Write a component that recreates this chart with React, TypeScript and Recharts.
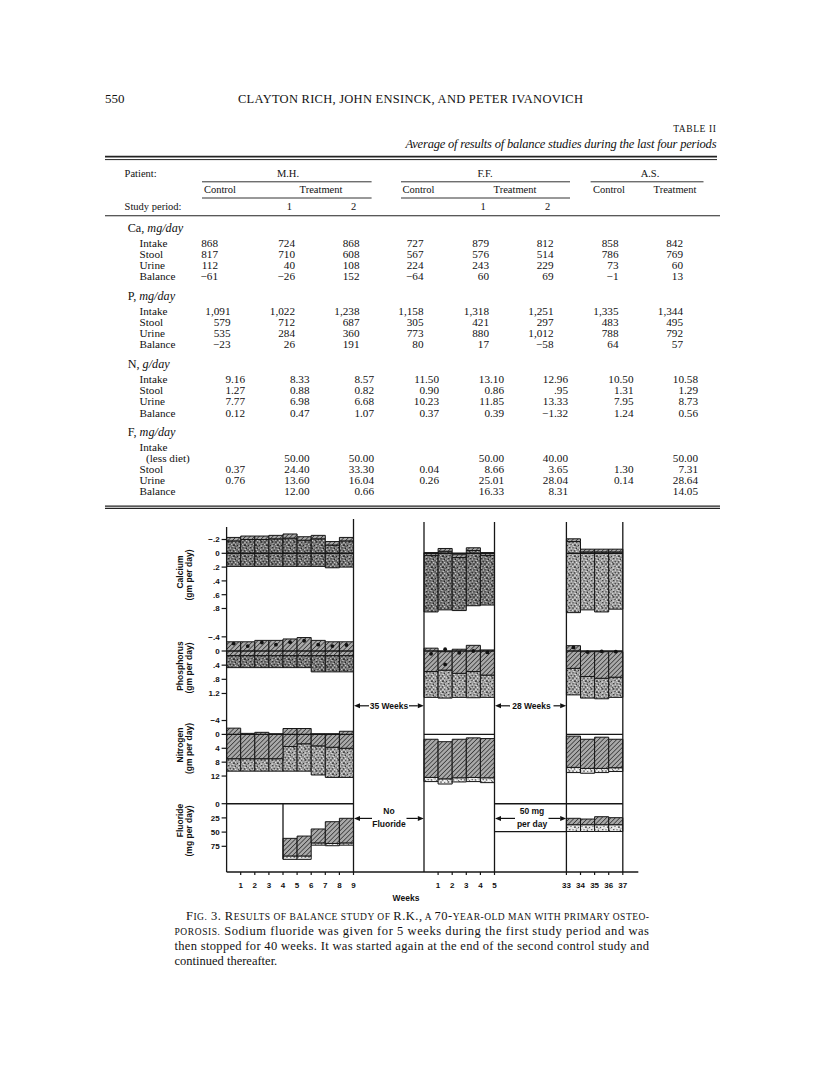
import React from 'react';
import { ComposedChart, XAxis, YAxis, ReferenceArea, ReferenceLine, Scatter } from 'recharts';

// ---------- Table II ----------
const tablePatients = ['M.H.', 'F.F.', 'A.S.'];
const tableGroups = ['Control', 'Treatment', 'Control', 'Treatment', 'Control', 'Treatment'];
const tablePeriods = ['', '1', '2', '', '1', '2', '', ''];
const balanceRowNames = ['Intake', 'Stool', 'Urine', 'Balance'];
const fluorideRowNames = ['Intake', '(less diet)', 'Stool', 'Urine', 'Balance'];

const calciumTable = [
  ['868', '724', '868', '727', '879', '812', '858', '842'],
  ['817', '710', '608', '567', '576', '514', '786', '769'],
  ['112', '40', '108', '224', '243', '229', '73', '60'],
  ['\u221261', '\u221226', '152', '\u221264', '60', '69', '\u22121', '13'],
];
const phosphorusTable = [
  ['1,091', '1,022', '1,238', '1,158', '1,318', '1,251', '1,335', '1,344'],
  ['579', '712', '687', '305', '421', '297', '483', '495'],
  ['535', '284', '360', '773', '880', '1,012', '788', '792'],
  ['\u221223', '26', '191', '80', '17', '\u221258', '64', '57'],
];
const nitrogenTable = [
  ['9.16', '8.33', '8.57', '11.50', '13.10', '12.96', '10.50', '10.58'],
  ['1.27', '0.88', '0.82', '0.90', '0.86', '.95', '1.31', '1.29'],
  ['7.77', '6.98', '6.68', '10.23', '11.85', '13.33', '7.95', '8.73'],
  ['0.12', '0.47', '1.07', '0.37', '0.39', '\u22121.32', '1.24', '0.56'],
];
const fluorideTable = [
  ['', '', '', '', '', '', '', ''],
  ['', '50.00', '50.00', '', '50.00', '40.00', '', '50.00'],
  ['0.37', '24.40', '33.30', '0.04', '8.66', '3.65', '1.30', '7.31'],
  ['0.76', '13.60', '16.04', '0.26', '25.01', '28.04', '0.14', '28.64'],
  ['', '12.00', '0.66', '', '16.33', '8.31', '', '14.05'],
];

// ---------- Fig. 3 (R.K.) ----------
// three study blocks; bars are labelled by the week they end on
const blockWeeks = [
  [1, 2, 3, 4, 5, 6, 7, 8, 9],
  [1, 2, 3, 4, 5],
  [34, 35, 36, 37],
];
const blockTickWeeks = [
  [1, 2, 3, 4, 5, 6, 7, 8, 9],
  [1, 2, 3, 4, 5],
  [33, 34, 35, 36, 37],
];
const blockFirstWeek = [0, 0, 33];

// gm per day, intake plotted down from 0, stool then urine stacked back up
const calciumIntake = [0.19, 0.19, 0.19, 0.19, 0.19, 0.19, 0.19, 0.21, 0.2, 0.85, 0.82, 0.83, 0.76, 0.75, 0.86, 0.82, 0.85, 0.81];
const calciumStool = [0.37, 0.39, 0.39, 0.4, 0.41, 0.38, 0.4, 0.33, 0.38, 0.82, 0.85, 0.77, 0.8, 0.72, 1.03, 0.84, 0.87, 0.83];
const calciumUrine = [0.05, 0.05, 0.05, 0.05, 0.06, 0.05, 0.05, 0.05, 0.05, 0.04, 0.04, 0.04, 0.04, 0.04, 0.04, 0.04, 0.04, 0.04];

const phosphorusIntake = [0.47, 0.47, 0.47, 0.47, 0.47, 0.47, 0.59, 0.59, 0.59, 1.31, 1.33, 1.31, 1.32, 1.31, 1.24, 1.33, 1.35, 1.31];
const phosphorusStool = [0.34, 0.34, 0.34, 0.34, 0.34, 0.34, 0.46, 0.46, 0.46, 0.73, 0.79, 0.68, 0.74, 0.63, 0.75, 0.61, 0.58, 0.57];
const phosphorusUrine = [0.39, 0.39, 0.43, 0.43, 0.47, 0.51, 0.43, 0.39, 0.39, 0.66, 0.52, 0.68, 0.74, 0.71, 0.64, 0.7, 0.75, 0.72];

// black dots in the phosphorus panel
const phosDotBlock = [0, 0, 0, 0, 0, 0, 0, 0, 0, 1, 1, 1, 1, 1, 1, 2, 2, 2, 2];
const phosDotWeek = [1, 2, 3, 4, 5, 6, 7, 8, 9, 1, 2, 2, 3, 4, 5, 34, 35, 36, 37];
const phosDotValue = [-0.21, -0.14, -0.24, -0.18, -0.25, -0.29, -0.18, -0.14, -0.17, 0.08, -0.05, 0.38, 0.05, 0, 0.04, -0.1, 0.03, 0.01, 0.02];

const nitrogenIntake = [10.6, 10.6, 10.6, 10.6, 10.6, 10.6, 11.7, 12.4, 12.4, 13.6, 14.3, 13.7, 13.6, 13.9, 11.0, 11.2, 11.0, 10.7];
const nitrogenStool = [3.6, 3.6, 3.6, 3.6, 7.1, 7.9, 8.4, 8.7, 8.4, 1.2, 1.5, 1.2, 1.2, 1.4, 1.5, 1.4, 1.2, 1.1];
const nitrogenUrine = [8.8, 7.3, 7.6, 7.2, 5.2, 4.4, 3.5, 3.9, 4.9, 11.0, 10.7, 11.1, 11.4, 11.3, 9.0, 8.4, 9.0, 8.2];

// mg per day
const fluorideIntake = [0, 0, 0, 0, 98, 98, 73, 74, 73, 0, 0, 0, 0, 0, 49, 49, 49, 49];
const fluorideStool = [0, 0, 0, 0, 6, 6, 4, 4, 4, 0, 0, 0, 0, 0, 12, 12, 12, 12];
const fluorideUrine = [0, 0, 0, 0, 31, 35, 24.5, 38.3, 43.3, 0, 0, 0, 0, 0, 11.3, 10, 14.1, 12.4];

// ---------- layout ----------
const PLOT_LEFT = 226.6;
const UNIT = 14.1;
const X_MAX = 29.2;
const CHART_W = 660;
const blockOffset = [0, 14, 24.1];
const blockEnd = blockWeeks.map((w, b) => blockOffset[b] + w.length);

const slots = blockWeeks.flatMap((weeks, b) =>
  weeks.map((w) => ({ block: b, x0: blockOffset[b] + (w - 1 - blockFirstWeek[b]) }))
);
const weekTickPos = blockTickWeeks.flatMap((weeks, b) => weeks.map((w) => blockOffset[b] + (w - blockFirstWeek[b])));
const weekTickText = blockTickWeeks.flat();

const tickFont = { fontFamily: 'Liberation Sans, Arial, sans-serif', fontSize: 8, fontWeight: 700, fill: '#111' };
const LINE = '#161616';

type PanelCfg = {
  top: number;
  height: number;
  domain: [number, number];
  ticks: number[];
  labels: string[];
  axisFrom?: number;
  dividerFrom?: number;
};

const caCfg: PanelCfg = { top: 519, height: 103, domain: [-0.4971, 0.9957], ticks: [-0.2, 0, 0.2, 0.4, 0.6, 0.8], labels: ['\u2212.2', '0', '.2', '.4', '.6', '.8'], axisFrom: -0.381, dividerFrom: -0.4536 };
const pCfg: PanelCfg = { top: 622, height: 82, domain: [-0.8192, 1.4972], ticks: [-0.4, 0, 0.4, 0.8, 1.2], labels: ['\u2212.4', '0', '.4', '.8', '1.2'] };
const nCfg: PanelCfg = { top: 704, height: 86, domain: [-8.761, 16.023], ticks: [-4, 0, 4, 8, 12], labels: ['\u22124', '0', '4', '8', '12'] };
const fCfg: PanelCfg = { top: 790, height: 82, domain: [-24.12, 120.25], ticks: [0, 25, 50, 75], labels: ['0', '25', '50', '75'] };

const DARK = 'url(#stippleDark)';
const MID = 'url(#stippleMid)';
const LIGHT = 'url(#stippleLight)';

type PanelProps = {
  cfg: PanelCfg;
  intake: number[];
  stool: number[];
  urine: number[];
  stoolFills: string[];
  zeroLines?: boolean;
  showWeeks?: boolean;
  dots?: { x: number; y: number }[];
  children?: React.ReactNode;
};

const BalancePanel = ({ cfg, intake, stool, urine, stoolFills, zeroLines = true, showWeeks, dots, children }: PanelProps) => {
  const axisH = showWeeks ? 24 : 0;
  const h = cfg.height + axisH;
  const bottom = cfg.domain[1];
  const dividerTop = cfg.dividerFrom ?? cfg.domain[0];
  const dividers = [blockEnd[0], blockOffset[1], blockEnd[1], blockOffset[2], blockEnd[2]];
  return (
    <div style={{ position: 'absolute', left: 0, top: cfg.top, width: CHART_W, height: h }}>
      <ComposedChart
        width={CHART_W}
        height={h}
        margin={{ top: 0, right: CHART_W - (PLOT_LEFT + X_MAX * UNIT), bottom: 0, left: PLOT_LEFT - 60 }}
        data={slots.map((s) => ({ x: s.x0 + 0.5 }))}
      >
        <XAxis
          type="number"
          dataKey="x"
          domain={[0, X_MAX]}
          allowDataOverflow
          hide={!showWeeks}
          ticks={weekTickPos}
          interval={0}
          tickFormatter={(v: number) => String(weekTickText[weekTickPos.indexOf(v)] ?? '')}
          tickSize={3}
          tickMargin={7}
          height={24}
          axisLine={{ stroke: LINE, strokeWidth: 1.3 }}
          tickLine={{ stroke: LINE, strokeWidth: 1.2 }}
          tick={tickFont}
        />
        <YAxis
          type="number"
          dataKey="y"
          domain={cfg.domain}
          reversed
          allowDataOverflow
          ticks={cfg.ticks}
          interval={0}
          tickFormatter={(v: number) => cfg.labels[cfg.ticks.indexOf(v)] ?? ''}
          width={60}
          axisLine={false}
          tickSize={5}
          tickMargin={2}
          tickLine={{ stroke: LINE, strokeWidth: 1.2 }}
          tick={tickFont}
        />
        {slots.map((s, i) => {
          if (stool[i] + urine[i] <= 0) return null;
          const stoolTop = intake[i] - stool[i];
          return (
            <ReferenceArea
              key={`s${i}`}
              x1={s.x0}
              x2={s.x0 + 1}
              y1={intake[i]}
              y2={stoolTop}
              fill={stoolFills[s.block]}
              fillOpacity={1}
              stroke={LINE}
              strokeWidth={1}
              ifOverflow="visible"
            />
          );
        })}
        {slots.map((s, i) => {
          if (urine[i] <= 0) return null;
          const stoolTop = intake[i] - stool[i];
          return (
            <ReferenceArea
              key={`u${i}`}
              x1={s.x0}
              x2={s.x0 + 1}
              y1={stoolTop}
              y2={stoolTop - urine[i]}
              fill="url(#hatch)"
              fillOpacity={1}
              stroke={LINE}
              strokeWidth={1}
              ifOverflow="visible"
            />
          );
        })}
        {zeroLines &&
          blockOffset.map((x0, b) => (
            <ReferenceLine
              key={`z${b}`}
              segment={[{ x: x0, y: 0 }, { x: blockEnd[b], y: 0 }]}
              stroke={LINE}
              strokeWidth={1.4}
              ifOverflow="visible"
            />
          ))}
        <ReferenceLine
          segment={[{ x: 0, y: cfg.axisFrom ?? cfg.domain[0] }, { x: 0, y: bottom }]}
          stroke={LINE}
          strokeWidth={1.3}
          ifOverflow="visible"
        />
        {dividers.map((x, i) => (
          <ReferenceLine
            key={`d${i}`}
            segment={[{ x, y: i === 0 ? cfg.domain[0] : dividerTop }, { x, y: bottom }]}
            stroke={LINE}
            strokeWidth={1.3}
            ifOverflow="visible"
          />
        ))}
        {children}
        {dots && (
          <Scatter
            data={dots}
            isAnimationActive={false}
            shape={(p: any) => <circle cx={p.cx} cy={p.cy} r={1.9} fill="#111" />}
          />
        )}
      </ComposedChart>
    </div>
  );
};

const phosDots = phosDotValue.map((v, i) => ({
  x: blockOffset[phosDotBlock[i]] + (phosDotWeek[i] - 0.5 - blockFirstWeek[phosDotBlock[i]]),
  y: v,
}));

// fluoride: first bar with intake in block 1, and the 50 mg/day level carried through the second gap
const firstFluorideSlot = fluorideIntake.findIndex((v) => v > 0);
const restartSlot = slots.findIndex((s) => s.block === 2);

const Arrow = ({ from, to, y }: { from: number; to: number; y: number }) => {
  const dir = to > from ? 1 : -1;
  const base = to - dir * 6;
  return (
    <g>
      <line x1={from} y1={y} x2={base} y2={y} stroke="#111" strokeWidth={1.2} />
      <polygon points={`${to},${y} ${base},${y - 2.5} ${base},${y + 2.5}`} fill="#111" />
    </g>
  );
};

// speck layout for the stippled (stool) texture, 11px tile
const SPECK_DARK = [
  [0.3, 0.4, 1.4], [4.2, 1.1, 1.0], [7.6, 0.2, 1.6], [9.4, 2.8, 1.1], [2.1, 3.3, 1.7], [6.0, 3.9, 1.2],
  [0.5, 6.2, 1.1], [3.7, 6.6, 1.5], [8.1, 5.9, 1.3], [5.6, 8.4, 1.0], [1.8, 9.2, 1.4], [9.6, 9.0, 1.2],
  [7.0, 10.1, 0.9], [4.6, 4.9, 0.8],
];
const SPECK_LIGHT = [
  [2.3, 1.2, 1.2], [5.9, 0.3, 1.0], [8.6, 1.9, 0.9], [0.2, 3.0, 1.0], [4.0, 2.8, 0.9], [7.5, 4.4, 1.3],
  [1.4, 5.0, 1.1], [5.2, 6.5, 1.0], [9.9, 6.6, 1.0], [2.6, 7.9, 1.2], [7.3, 8.0, 1.0], [0.4, 10.1, 0.9],
  [4.1, 10.0, 1.1], [9.0, 10.4, 0.7],
];

const Stipple = ({ id, base, dark, light }: { id: string; base: string; dark: string; light: string }) => (
  <pattern id={id} width={11} height={11} patternUnits="userSpaceOnUse">
    <rect width={11} height={11} fill={base} />
    {SPECK_DARK.map(([x, y, s], i) => (
      <rect key={`d${i}`} x={x} y={y} width={s} height={s} fill={dark} />
    ))}
    {SPECK_LIGHT.map(([x, y, s], i) => (
      <rect key={`l${i}`} x={x} y={y} width={s} height={s} fill={light} />
    ))}
  </pattern>
);

const SERIF = 'Liberation Serif, Times New Roman, serif';
const SANS = 'Liberation Sans, Arial, sans-serif';

const colRightCa = [218, 295, 359.5, 423.5, 489, 553.5, 618.5, 683];
const colRightP = [230.5, 295, 359.5, 423.5, 489, 553.5, 618.5, 683];
const colRightN = [245, 309.5, 374, 439, 504, 568, 633.5, 698];

const ROW_FONT = 11.2;

const TableSection = ({ title, unit, names, rows, y0, cols }: { title: string; unit: string; names: string[]; rows: string[][]; y0: number; cols: number[] }) => (
  <g>
    <text x={127.7} y={y0} fontSize={12.2}>
      {title}, <tspan fontStyle="italic">{unit}</tspan>
    </text>
    {names.map((n, r) => (
      <text key={n} x={n.startsWith('(') ? 146 : 139.5} y={y0 + 15.2 + r * 11.1} fontSize={ROW_FONT}>
        {n}
      </text>
    ))}
    {rows.map((row, r) =>
      row.map((v, c) => (
        <text key={`${r}-${c}`} x={cols[c]} y={y0 + 15.2 + r * 11.1} fontSize={ROW_FONT} textAnchor="end">
          {v}
        </text>
      ))
    )}
  </g>
);

export default function App() {
  const fIntakeTop = fluorideIntake[firstFluorideSlot];
  const restartLevel = fluorideIntake[restartSlot];
  return (
    <div style={{ position: 'absolute', left: 0, top: 0, width: 816, height: 1076, background: '#fff', overflow: 'hidden' }}>
      <svg width={0} height={0} style={{ position: 'absolute' }}>
        <defs>
          <pattern id="hatch" width={3.2} height={3.2} patternUnits="userSpaceOnUse" patternTransform="rotate(45)">
            <rect width={3.2} height={3.2} fill="#a9a9a9" />
            <line x1={0} y1={0} x2={0} y2={3.2} stroke="#2a2a2a" strokeWidth={1.4} />
          </pattern>
          <Stipple id="stippleDark" base="#777" dark="#222" light="#d4d4d4" />
          <Stipple id="stippleMid" base="#a2a2a2" dark="#383838" light="#ececec" />
          <Stipple id="stippleLight" base="#e2e2e2" dark="#555" light="#fff" />
        </defs>
      </svg>

      <BalancePanel cfg={caCfg} intake={calciumIntake} stool={calciumStool} urine={calciumUrine} stoolFills={[DARK, DARK, MID]} />
      <BalancePanel cfg={pCfg} intake={phosphorusIntake} stool={phosphorusStool} urine={phosphorusUrine} stoolFills={[DARK, MID, MID]} dots={phosDots} />
      <BalancePanel cfg={nCfg} intake={nitrogenIntake} stool={nitrogenStool} urine={nitrogenUrine} stoolFills={[MID, LIGHT, LIGHT]} />
      <BalancePanel cfg={fCfg} intake={fluorideIntake} stool={fluorideStool} urine={fluorideUrine} stoolFills={[LIGHT, LIGHT, LIGHT]} zeroLines={false} showWeeks>
        <ReferenceLine segment={[{ x: 0, y: 0 }, { x: blockEnd[0], y: 0 }]} stroke={LINE} strokeWidth={1.4} ifOverflow="visible" />
        <ReferenceLine
          segment={[{ x: slots[firstFluorideSlot].x0, y: 0 }, { x: slots[firstFluorideSlot].x0, y: fIntakeTop }]}
          stroke={LINE}
          strokeWidth={1.3}
          ifOverflow="visible"
        />
        <ReferenceLine segment={[{ x: blockEnd[1], y: 0 }, { x: blockEnd[2], y: 0 }]} stroke={LINE} strokeWidth={1.4} ifOverflow="visible" />
        <ReferenceLine segment={[{ x: blockEnd[1], y: restartLevel }, { x: blockOffset[2], y: restartLevel }]} stroke={LINE} strokeWidth={1.3} ifOverflow="visible" />
      </BalancePanel>

      <svg width={816} height={1076} style={{ position: 'absolute', left: 0, top: 0, pointerEvents: 'none' }} fontFamily={SERIF} fill="#111">
        {/* running head */}
        <text x={105} y={103} fontSize={13}>550</text>
        <text x={238} y={103} fontSize={12.5} textLength={345} lengthAdjust="spacing">
          CLAYTON RICH, JOHN ENSINCK, AND PETER IVANOVICH
        </text>
        <text x={716.5} y={131.5} fontSize={9.5} textAnchor="end" letterSpacing={0.6}>TABLE II</text>
        <text x={405.5} y={148} fontSize={12.5} fontStyle="italic" textLength={311} lengthAdjust="spacing">
          Average of results of balance studies during the last four periods
        </text>

        {/* table rules */}
        <line x1={105} x2={717} y1={156.6} y2={156.6} stroke="#222" strokeWidth={1.8} />
        <line x1={105} x2={717} y1={159.6} y2={159.6} stroke="#222" strokeWidth={1} />
        <text x={124.6} y={177} fontSize={10.5}>Patient:</text>
        {tablePatients.map((p, i) => (
          <text key={p} x={[288, 485, 650][i]} y={177} fontSize={10.5} textAnchor="middle">{p}</text>
        ))}
        {[[202, 371.6], [401, 570], [590.6, 703.5]].map(([a, b], i) => (
          <line key={`pu${i}`} x1={a} x2={b} y1={181.8} y2={181.8} stroke="#333" strokeWidth={1} />
        ))}
        {tableGroups.map((g, i) => (
          <text key={`g${i}`} x={[220, 321, 418.5, 515, 609, 675][i]} y={193} fontSize={10.5} textAnchor="middle">{g}</text>
        ))}
        {[[202, 371.6], [401, 570]].map(([a, b], i) => (
          <line key={`gu${i}`} x1={a} x2={b} y1={198} y2={198} stroke="#333" strokeWidth={1} />
        ))}
        <text x={124.6} y={210} fontSize={10.5}>Study period:</text>
        {tablePeriods.map((p, i) =>
          p ? (
            <text key={`sp${i}`} x={[0, 289.4, 353.5, 0, 483, 547.7, 0, 0][i]} y={210} fontSize={10.5} textAnchor="middle">{p}</text>
          ) : null
        )}
        <line x1={105} x2={720} y1={215.7} y2={215.7} stroke="#222" strokeWidth={1.1} />

        <TableSection title="Ca" unit="mg/day" names={balanceRowNames} rows={calciumTable} y0={231.5} cols={colRightCa} />
        <TableSection title="P" unit="mg/day" names={balanceRowNames} rows={phosphorusTable} y0={299.5} cols={colRightP} />
        <TableSection title="N" unit="g/day" names={balanceRowNames} rows={nitrogenTable} y0={368} cols={colRightN} />
        <TableSection title="F" unit="mg/day" names={fluorideRowNames} rows={fluorideTable} y0={435.5} cols={colRightN} />

        <line x1={105} x2={720} y1={506.2} y2={506.2} stroke="#222" strokeWidth={1.2} />
        <line x1={105} x2={720} y1={508.4} y2={508.4} stroke="#222" strokeWidth={1.2} />

        {/* figure axis titles */}
        <g fontFamily={SANS} fontWeight={700} fontSize={8.5}>
          {[
            ['Calcium', '(gm per day)', 572, 575],
            ['Phosphorus', '(gm per day)', 666, 668],
            ['Nitrogen', '(gm per day)', 745, 748.5],
            ['Fluoride', '(mg per day)', 820.5, 831],
          ].map(([a, b, ya, yb]) => (
            <g key={a as string}>
              <text transform={`translate(180,${ya}) rotate(-90)`} textAnchor="middle" dy="0.35em">{a}</text>
              <text transform={`translate(189.5,${yb}) rotate(-90)`} textAnchor="middle" dy="0.35em">{b}</text>
            </g>
          ))}

          <text x={389} y={708.8} textAnchor="middle">35 Weeks</text>
          <Arrow from={369} to={354} y={705.8} />
          <Arrow from={409} to={423.8} y={705.8} />

          <text x={531.5} y={708.8} textAnchor="middle">28 Weeks</text>
          <Arrow from={510} to={495} y={705.8} />
          <Arrow from={553.5} to={566.2} y={705.8} />

          <text x={389} y={814} textAnchor="middle">No</text>
          <text x={389} y={827} textAnchor="middle">Fluoride</text>
          <Arrow from={372} to={354} y={818.4} />
          <Arrow from={406.5} to={423.8} y={818.4} />

          <text x={532} y={814} textAnchor="middle">50 mg</text>
          <text x={532} y={826.5} textAnchor="middle">per day</text>
          <Arrow from={515} to={495} y={818.4} />
          <Arrow from={548.5} to={566.2} y={818.4} />

          <text x={406} y={901} textAnchor="middle">Weeks</text>
        </g>

        {/* caption */}
        <g fontSize={12.5}>
          <text x={186} y={920} textLength={463} lengthAdjust="spacing">
            F<tspan fontSize={9.5}>IG.</tspan> 3.{'  '}R<tspan fontSize={9.5}>ESULTS OF BALANCE STUDY OF </tspan>R.K.,
            <tspan fontSize={9.5}> A </tspan>70-<tspan fontSize={9.5}>YEAR-OLD MAN WITH PRIMARY OSTEO-</tspan>
          </text>
          <text x={174.5} y={935} textLength={474.5} lengthAdjust="spacing">
            <tspan fontSize={9.5}>POROSIS.</tspan> Sodium fluoride was given for 5 weeks during the first study period and was
          </text>
          <text x={174.5} y={950} textLength={474.5} lengthAdjust="spacing">
            then stopped for 40 weeks.  It was started again at the end of the second control study and
          </text>
          <text x={174.5} y={965}>continued thereafter.</text>
        </g>
      </svg>
    </div>
  );
}
